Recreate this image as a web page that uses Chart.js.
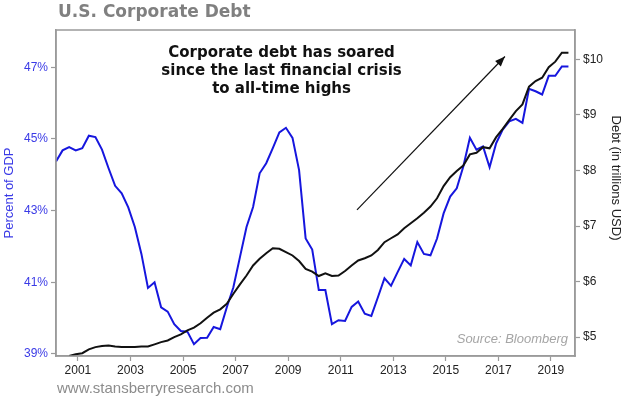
<!DOCTYPE html>
<html>
<head>
<meta charset="utf-8">
<script src="https://cdn.jsdelivr.net/npm/chart.js@4.4.1/dist/chart.umd.min.js"></script>
<style>
  html, body { margin: 0; padding: 0; background: #fff; }
  #debt { display: block; }
</style>
</head>
<body>
<canvas id="debt" width="624" height="398"></canvas>
<script>
// quarterly observations, 2000Q1 .. 2019Q3
var quarters = [
    '2000Q1','2000Q2','2000Q3','2000Q4','2001Q1','2001Q2','2001Q3','2001Q4',
    '2002Q1','2002Q2','2002Q3','2002Q4','2003Q1','2003Q2','2003Q3','2003Q4',
    '2004Q1','2004Q2','2004Q3','2004Q4','2005Q1','2005Q2','2005Q3','2005Q4',
    '2006Q1','2006Q2','2006Q3','2006Q4','2007Q1','2007Q2','2007Q3','2007Q4',
    '2008Q1','2008Q2','2008Q3','2008Q4','2009Q1','2009Q2','2009Q3','2009Q4',
    '2010Q1','2010Q2','2010Q3','2010Q4','2011Q1','2011Q2','2011Q3','2011Q4',
    '2012Q1','2012Q2','2012Q3','2012Q4','2013Q1','2013Q2','2013Q3','2013Q4',
    '2014Q1','2014Q2','2014Q3','2014Q4','2015Q1','2015Q2','2015Q3','2015Q4',
    '2016Q1','2016Q2','2016Q3','2016Q4','2017Q1','2017Q2','2017Q3','2017Q4',
    '2018Q1','2018Q2','2018Q3','2018Q4','2019Q1','2019Q2','2019Q3'
];

// corporate debt as percent of GDP (left axis)
var pctGdp = [
    44.37, 44.68, 44.77, 44.68, 44.74, 45.09, 45.05, 44.70, 44.18, 43.69,
    43.48, 43.09, 42.54, 41.79, 40.84, 41.00, 40.30, 40.18, 39.83, 39.64,
    39.62, 39.27, 39.44, 39.45, 39.75, 39.69, 40.30, 40.86, 41.70, 42.54,
    43.10, 44.04, 44.32, 44.74, 45.18, 45.31, 45.03, 44.13, 42.22, 41.91,
    40.78, 40.78, 39.83, 39.94, 39.92, 40.31, 40.46, 40.12, 40.06, 40.58,
    41.11, 40.90, 41.28, 41.65, 41.47, 42.12, 41.79, 41.75, 42.22, 42.92,
    43.39, 43.62, 44.23, 45.03, 44.70, 44.79, 44.21, 44.88, 45.26, 45.49,
    45.56, 45.45, 46.40, 46.33, 46.24, 46.76, 46.76, 47.02, 47.02
];

// corporate debt, trillions USD (right axis)
var debtUsd = [
    null, null, 4.66, 4.69, 4.71, 4.78, 4.82, 4.84, 4.85, 4.83,
    4.82, 4.82, 4.82, 4.83, 4.83, 4.87, 4.91, 4.94, 5.00, 5.05,
    5.12, 5.17, 5.25, 5.35, 5.44, 5.50, 5.60, 5.78, 5.95, 6.11,
    6.29, 6.41, 6.51, 6.60, 6.59, 6.53, 6.47, 6.37, 6.23, 6.18,
    6.10, 6.15, 6.10, 6.11, 6.19, 6.29, 6.38, 6.42, 6.47, 6.57,
    6.71, 6.78, 6.85, 6.96, 7.05, 7.14, 7.24, 7.35, 7.50, 7.72,
    7.88, 7.99, 8.09, 8.29, 8.32, 8.42, 8.40, 8.60, 8.75, 8.91,
    9.07, 9.19, 9.51, 9.61, 9.67, 9.86, 9.96, 10.12, 10.12
];

var yearTicks = [2001, 2003, 2005, 2007, 2009, 2011, 2013, 2015, 2017, 2019];
var pctTicks = [39, 41, 43, 45, 47];
var debtTicks = [5, 6, 7, 8, 9, 10];

var annotation = ['Corporate debt has soared', 'since the last financial crisis', 'to all-time highs'];

// a quarter sits at the middle month of its quarter
function quarterToYear(q) {
    return parseInt(q.slice(0, 4), 10) + (parseInt(q.slice(5), 10) - 1) / 4 + 1 / 6;
}

var xs = quarters.map(quarterToYear);
var pctPoints = [], debtPoints = [];
for (var i = 0; i < xs.length; i++) {
    pctPoints.push({x: xs[i], y: pctGdp[i]});
    debtPoints.push({x: xs[i], y: debtUsd[i]});
}

var BLUE = '#1616de';
var BLUE_TEXT = '#3a3ae6';
var AXIS_GREY = '#9a9a9a';

var extras = {
    id: 'extras',
    afterDraw: function (chart) {
        var ctx = chart.ctx, a = chart.chartArea;
        var sx = chart.scales.x, sy = chart.scales.y;
        ctx.save();

        // frame round the plot
        ctx.strokeStyle = AXIS_GREY;
        ctx.lineWidth = 1.5;
        ctx.strokeRect(a.left, a.top, a.right - a.left, a.bottom - a.top);

        // heading
        ctx.fillStyle = '#808080';
        ctx.font = 'bold 17px "DejaVu Sans"';
        ctx.textAlign = 'left';
        ctx.textBaseline = 'middle';
        ctx.fillText('U.S. Corporate Debt', 58, 13);

        // annotation
        ctx.fillStyle = '#111';
        ctx.font = 'bold 15px "DejaVu Sans"';
        ctx.textAlign = 'center';
        var tx = sx.getPixelForValue(2008.75);
        for (var i = 0; i < annotation.length; i++) {
            ctx.fillText(annotation[i], tx, 53 + i * 18.3);
        }

        // arrow
        var x0 = sx.getPixelForValue(2011.62), y0 = sy.getPixelForValue(43.02);
        var x1 = sx.getPixelForValue(2017.25), y1 = sy.getPixelForValue(47.3);
        ctx.strokeStyle = '#111';
        ctx.lineWidth = 1.2;
        ctx.beginPath();
        ctx.moveTo(x0, y0);
        ctx.lineTo(x1, y1);
        ctx.stroke();
        var ang = Math.atan2(y1 - y0, x1 - x0);
        ctx.fillStyle = '#111';
        ctx.beginPath();
        ctx.moveTo(x1, y1);
        ctx.lineTo(x1 - 10 * Math.cos(ang) + 4 * Math.sin(ang), y1 - 10 * Math.sin(ang) - 4 * Math.cos(ang));
        ctx.lineTo(x1 - 10 * Math.cos(ang) - 4 * Math.sin(ang), y1 - 10 * Math.sin(ang) + 4 * Math.cos(ang));
        ctx.closePath();
        ctx.fill();

        // source
        ctx.fillStyle = '#a5a5a5';
        ctx.font = 'italic 13px "Liberation Sans"';
        ctx.textAlign = 'right';
        ctx.fillText('Source: Bloomberg', a.right - 7, a.bottom - 17);

        // website
        ctx.fillStyle = '#8c8c8c';
        ctx.font = '15px "Liberation Sans"';
        ctx.textAlign = 'left';
        ctx.fillText('www.stansberryresearch.com', 57, 389);

        // right axis title
        ctx.fillStyle = '#222';
        ctx.font = '13px "Liberation Sans"';
        ctx.textAlign = 'center';
        ctx.translate(616, 178);
        ctx.rotate(Math.PI / 2);
        ctx.fillText('Debt (in trillions USD)', 0, 0);
        ctx.restore();
    }
};

var ctx = document.getElementById('debt');
var myChart = new Chart(ctx, {
    type: 'line',
    data: {
        datasets: [{
            label: 'Debt (in trillions USD)',
            data: debtPoints,
            yAxisID: 'y1',
            borderColor: '#111',
            borderWidth: 2,
            pointRadius: 0,
            tension: 0
        }, {
            label: 'Percent of GDP',
            data: pctPoints,
            yAxisID: 'y',
            borderColor: BLUE,
            borderWidth: 2,
            pointRadius: 0,
            tension: 0
        }]
    },
    options: {
        responsive: false,
        animation: false,
        devicePixelRatio: 1,
        parsing: false,
        layout: {padding: {top: 30, left: 0, right: 0, bottom: 0}},
        plugins: {
            legend: {display: false},
            tooltip: {enabled: false}
        },
        scales: {
            x: {
                type: 'linear',
                min: xs[0],
                max: xs[xs.length - 1] + 0.25,
                afterBuildTicks: function (s) {
                    s.ticks = yearTicks.map(function (v) { return {value: v}; });
                },
                afterFit: function (s) { s.height = 42; },
                ticks: {
                    autoSkip: false,
                    maxRotation: 0,
                    padding: 2,
                    color: '#222',
                    font: {family: 'Liberation Sans', size: 12},
                    callback: function (v) { return String(v); }
                },
                grid: {drawOnChartArea: false, tickLength: 5, color: AXIS_GREY, tickWidth: 1.2},
                border: {color: AXIS_GREY, width: 1.5}
            },
            y: {
                position: 'left',
                min: 38.94,
                max: 48.04,
                afterBuildTicks: function (s) {
                    s.ticks = pctTicks.map(function (v) { return {value: v}; });
                },
                afterFit: function (s) { s.width = 56; },
                ticks: {
                    padding: 3,
                    color: BLUE_TEXT,
                    font: {family: 'Liberation Sans', size: 12},
                    callback: function (v) { return v + '%'; }
                },
                title: {
                    display: true,
                    text: 'Percent of GDP',
                    color: BLUE_TEXT,
                    font: {family: 'Liberation Sans', size: 13},
                    padding: {top: 2, bottom: 0}
                },
                grid: {drawOnChartArea: false, tickLength: 5, color: AXIS_GREY, tickWidth: 1.2},
                border: {color: AXIS_GREY, width: 1.5}
            },
            y1: {
                position: 'right',
                min: 4.66,
                max: 10.53,
                afterBuildTicks: function (s) {
                    s.ticks = debtTicks.map(function (v) { return {value: v}; });
                },
                afterFit: function (s) { s.width = 49; },
                ticks: {
                    padding: 3,
                    color: '#222',
                    font: {family: 'Liberation Sans', size: 12},
                    callback: function (v) { return '$' + v; }
                },
                grid: {drawOnChartArea: false, tickLength: 5, color: AXIS_GREY, tickWidth: 1.2},
                border: {color: AXIS_GREY, width: 1.5}
            }
        }
    },
    plugins: [extras]
});
</script>
</body>
</html>
